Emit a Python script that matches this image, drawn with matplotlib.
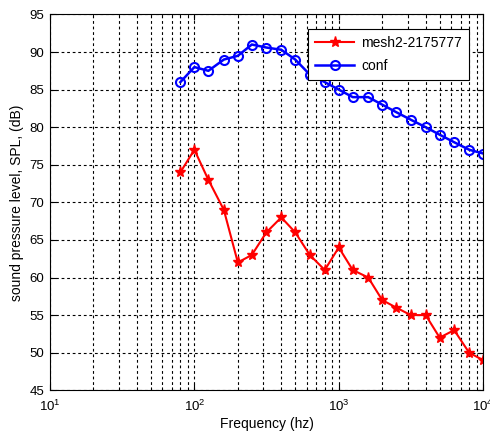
import matplotlib
matplotlib.use("Agg")
import matplotlib.pyplot as plt
from matplotlib.ticker import LogLocator, NullFormatter

plt.rcParams['font.family'] = ['Liberation Sans', 'DejaVu Sans']
plt.rcParams['mathtext.fontset'] = 'custom'
plt.rcParams['mathtext.rm'] = 'Liberation Sans'
plt.rcParams['mathtext.it'] = 'Liberation Sans:italic'

freq = [80, 100, 125, 160, 200, 250, 315, 400, 500, 630, 800, 1000,
        1250, 1600, 2000, 2500, 3150, 4000, 5000, 6300, 8000, 10000]
mesh = [74, 77, 73, 69, 62, 63, 66, 68, 66, 63, 61, 64,
        61, 60, 57, 56, 55, 55, 52, 53, 50, 49]
conf = [86, 88, 87.5, 89, 89.5, 91, 90.6, 90.3, 89, 87, 86, 85,
        84, 84, 83, 82, 81, 80, 79, 78, 77, 76.5]
labels = ['mesh2-2175777', 'conf']
yticks = [45, 50, 55, 60, 65, 70, 75, 80, 85, 90, 95]

fig = plt.figure(figsize=(4.9, 4.38), dpi=100)
ax = fig.add_axes([0.102, 0.109, 0.884, 0.858])

ax.plot(freq, mesh, color='red', lw=1.5, marker='*', ms=8, label=labels[0])
ax.plot(freq, conf, color='blue', lw=1.8, marker='o', ms=6.5, mfc='none',
        mew=1.5, label=labels[1])

ax.set_xscale('log')
ax.set_xlim(10, 10000)
ax.set_ylim(45, 95)
ax.set_yticks(yticks)
ax.xaxis.set_major_locator(LogLocator(base=10, numticks=10))
ax.xaxis.set_minor_locator(LogLocator(base=10, subs=range(2, 10), numticks=20))
ax.xaxis.set_minor_formatter(NullFormatter())

ax.grid(True, which='major', axis='both', color='black', ls=(0, (2.5, 2.5)), lw=0.8)
ax.grid(True, which='minor', axis='x', color='black', ls=(0, (2.5, 2.5)), lw=0.8)

ax.tick_params(which='both', direction='in', top=True, right=True, labelsize=9.5)
ax.tick_params(which='major', length=4)
ax.tick_params(which='minor', length=2)
ax.tick_params(axis='x', which='major', pad=6)
ax.tick_params(axis='y', which='major', pad=4)
for s in ax.spines.values():
    s.set_linewidth(0.8)

ax.set_xlabel('Frequency (hz)', fontsize=10, labelpad=2)
ax.set_ylabel('sound pressure level, SPL, (dB)', fontsize=10)

leg = ax.legend(loc='upper right', fontsize=10, fancybox=False, framealpha=1,
                edgecolor='black', borderpad=0.5, handlelength=2.8,
                labelspacing=0.65, handletextpad=0.5,
                bbox_to_anchor=(0.983, 0.98))
leg.get_frame().set_linewidth(0.8)

fig.savefig('out.png', dpi=100)
